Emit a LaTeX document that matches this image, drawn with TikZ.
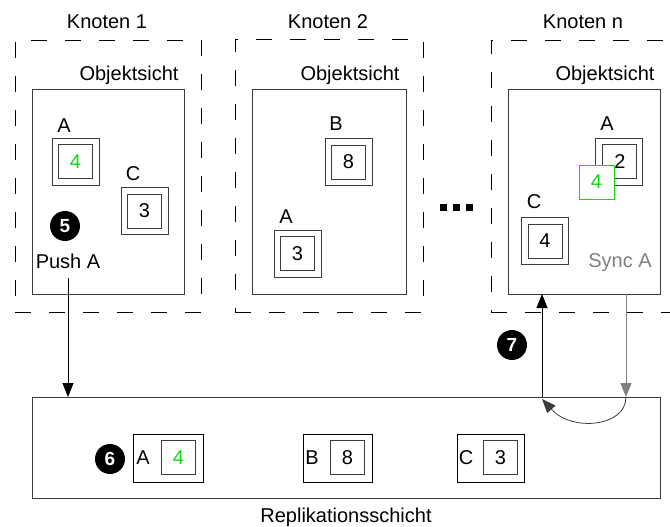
\documentclass[tikz,border=0pt]{standalone}
\usepackage{fontspec}
\setmainfont{Liberation Sans}
\usetikzlibrary{arrows.meta}
\definecolor{newgreen}{RGB}{20,215,20}
\definecolor{framegray}{RGB}{60,60,60}
\definecolor{syncgray}{RGB}{128,128,128}
\begin{document}
\begin{tikzpicture}[x=1pt,y=-1pt,
  every node/.style={font=\fontsize{20}{24}\selectfont, inner sep=0pt, outer sep=0pt},
  knotenbox/.style={draw=black, line width=0.9pt, dash pattern=on 16pt off 18pt},
  viewbox/.style={draw=framegray, line width=0.9pt, minimum width=152pt, minimum height=205pt},
  outerbox/.style={draw=framegray, line width=0.9pt, minimum width=47pt, minimum height=47pt},
  innerbox/.style={draw=framegray, line width=1pt, minimum width=34pt, minimum height=34pt},
  replbox/.style={draw=black, line width=0.9pt, minimum width=70pt, minimum height=48pt},
  numdot/.style={circle, fill=black, minimum size=30pt, text=white,
    font=\bfseries\fontsize{19}{19}\selectfont},
  lbl/.style={anchor=base},
  tip/.style={-{Triangle[length=14pt,width=11pt]}, line width=0.9pt},
  dotsq/.style={fill=black, minimum size=6.5pt}
]
\useasboundingbox (0,0) rectangle (670,527);
\clip (0,0) rectangle (670,527);

% dashed node frames
\node[knotenbox, minimum width=186pt, minimum height=272pt] (k1) at (108,176) {};
\node[knotenbox, minimum width=188pt, minimum height=273pt] (k2) at (329,175.5) {};
\node[knotenbox, minimum width=188pt, minimum height=272pt] (kn) at (585,176) {};

\node[lbl] (t1) at (107,29) {Knoten 1};
\node[lbl] (t2) at (328,29) {Knoten 2};
\node[lbl] (tn) at (583,29) {Knoten n};

% object views
\node[viewbox] (v1) at (108,191.5) {};
\node[viewbox, minimum width=154pt] (v2) at (329,191.5) {};
\node[viewbox] (vn) at (584,191.5) {};

\node[lbl] (o1) at (129,81) {Objektsicht};
\node[lbl] (o2) at (350,81) {Objektsicht};
\node[lbl] (on) at (605,81) {Objektsicht};

% node 1 objects
\node[lbl] (a1l) at (64,132) {A};
\node[outerbox] (a1o) at (75.5,161.5) {};
\node[innerbox, text=newgreen] (a1i) at (75.5,161.5) {4};
\node[lbl] (c1l) at (133,180) {C};
\node[outerbox] (c1o) at (144.5,211) {};
\node[innerbox] (c1i) at (144.5,211) {3};
\node[numdot] (n5) at (65,226) {5};
\node[lbl] (push) at (68,268) {Push A};

% node 2 objects
\node[lbl] (b2l) at (336,131) {B};
\node[outerbox] (b2o) at (348.5,162) {};
\node[innerbox] (b2i) at (348.5,162) {8};
\node[lbl] (a2l) at (286,223) {A};
\node[outerbox] (a2o) at (297.5,253.5) {};
\node[innerbox] (a2i) at (297.5,253.5) {3};

% dots between nodes
\node[dotsq] (d1) at (443.5,207.5) {};
\node[dotsq] (d2) at (456.5,207.5) {};
\node[dotsq] (d3) at (469.5,207.5) {};

% node n objects
\node[lbl] (anl) at (607,131) {A};
\node[outerbox] (ano) at (619,161.5) {};
\node[innerbox] (ani) at (619,161.5) {\hspace*{2pt}2};
\node[draw=newgreen, fill=white, line width=1pt, minimum width=35pt, minimum height=34pt,
  text=newgreen] (gn) at (596.5,182) {4};
\node[lbl] (cnl) at (534,208) {C};
\node[outerbox] (cno) at (545,241) {};
\node[innerbox] (cni) at (545,241) {4};
\node[lbl, text=syncgray] (sync) at (620,267) {Sync A};

% replication layer
\node[draw=framegray, line width=0.9pt, minimum width=628pt, minimum height=101pt] (repl) at (346,447.5) {};
\node[lbl] (rl) at (346,522) {Replikationsschicht};

\node[replbox] (ra) at (168,458) {};
\node[innerbox, text=newgreen] (rai) at (178.5,457.5) {4};
\node (ral) at (143,458) {A};
\node[replbox, minimum width=69pt] (rb) at (337.5,458) {};
\node[innerbox] (rbi) at (347.5,457.5) {8};
\node (rbl) at (312,458) {B};
\node[replbox, minimum width=67pt] (rc) at (490.5,458) {};
\node[innerbox] (rci) at (500.5,457.5) {3};
\node (rcl) at (466,458) {C};
\node[numdot] (n6) at (110,459) {6};

% connectors
\draw[tip] ([yshift=-10pt]push.south) -- (push.south |- repl.north);

\coordinate (up7) at (542,0);
\coordinate (down7) at (626,0);
\draw[tip] (up7 |- repl.north) -- (up7 |- vn.south);
\draw[tip, draw=syncgray, -{Triangle[length=14pt,width=11pt,fill=syncgray]}, color=syncgray]
  (down7 |- vn.south) -- (down7 |- repl.north);
\draw[tip, line width=0.8pt, framegray]
  (down7 |- repl.north) .. controls +(0,30) and +(30,33) .. ([yshift=-2pt]up7 |- repl.north);
\node[numdot] (n7) at (512,345) {7};
\end{tikzpicture}
\end{document}
